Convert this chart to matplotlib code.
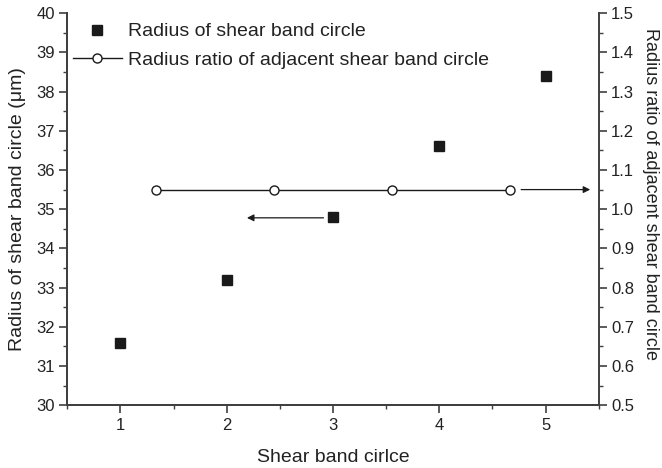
import matplotlib
matplotlib.use("Agg")
import matplotlib.pyplot as plt
from matplotlib.ticker import MultipleLocator
from matplotlib.lines import Line2D

plt.rcParams['font.family'] = ['Liberation Sans', 'DejaVu Sans']

circle_idx = [1, 2, 3, 4, 5]
radius = [31.6, 33.2, 34.8, 36.6, 38.4]
ratio_x = [1.333, 2.444, 3.556, 4.667]
ratio = [1.05, 1.05, 1.05, 1.05]

xlabel = "Shear band cirlce"
ylabel_left = "Radius of shear band circle (\u03bcm)"
ylabel_right = "Radius ratio of adjacent shear band circle"

spine_c = '#404040'

fig = plt.figure(figsize=(6.62, 4.68), dpi=100)
ax = fig.add_axes([0.1017, 0.134, 0.9044 - 0.1017, 0.972 - 0.134])
ax2 = ax.twinx()

ax.plot(circle_idx, radius, linestyle='none', marker='s', markersize=6.5,
        color='#1a1a1a', zorder=3)
ax2.plot(ratio_x, ratio, color='#1a1a1a', linewidth=1.0, marker='o',
         markersize=6.5, markerfacecolor='white', markeredgecolor='#1a1a1a',
         markeredgewidth=1.0)

ax.set_xlim(0.5, 5.5)
ax.set_ylim(30, 40)
ax2.set_ylim(0.5, 1.5)

ax.xaxis.set_major_locator(MultipleLocator(1))
ax.xaxis.set_minor_locator(MultipleLocator(0.5))
ax.yaxis.set_major_locator(MultipleLocator(1))
ax.yaxis.set_minor_locator(MultipleLocator(0.5))
ax2.yaxis.set_major_locator(MultipleLocator(0.1))
ax2.yaxis.set_minor_locator(MultipleLocator(0.05))
ax2.yaxis.set_major_formatter(matplotlib.ticker.FormatStrFormatter('%.1f'))

for a in (ax, ax2):
    a.spines['top'].set_visible(False)
    for s in a.spines.values():
        s.set_color(spine_c)
        s.set_linewidth(1.4)
    a.tick_params(which='major', direction='out', length=6, width=1.2,
                  color=spine_c, labelsize=12, labelcolor='#222222', pad=3)
    a.tick_params(which='minor', direction='out', length=3, width=1.0,
                  color=spine_c)
ax.spines['right'].set_visible(False)

ax.set_xlabel(xlabel, fontsize=14, color='#222222', labelpad=12)
ax.set_ylabel(ylabel_left, fontsize=14, color='#222222', labelpad=7)
ax2.set_ylabel(ylabel_right, fontsize=13, color='#222222', rotation=270,
               va='center', ha='center')
ax2.yaxis.set_label_coords(1.098, 0.54)

# arrows
ax.annotate('', xy=(2.19, 34.78), xytext=(2.91, 34.78),
            arrowprops=dict(arrowstyle='-|>', color='#1a1a1a', lw=0.9,
                            mutation_scale=10, shrinkA=0, shrinkB=0))
ax2.annotate('', xy=(5.42, 1.05), xytext=(4.77, 1.05),
             arrowprops=dict(arrowstyle='-|>', color='#1a1a1a', lw=0.9,
                             mutation_scale=10, shrinkA=0, shrinkB=0))

handles = [
    Line2D([], [], linestyle='none', marker='s', markersize=6.5, color='#1a1a1a'),
    Line2D([], [], color='#1a1a1a', linewidth=1.0, marker='o', markersize=6.5,
           markerfacecolor='white', markeredgecolor='#1a1a1a'),
]
labels = ["Radius of shear band circle", "Radius ratio of adjacent shear band circle"]
leg = ax2.legend(handles, labels, loc='upper left', bbox_to_anchor=(-0.004, 0.995),
                 frameon=False, fontsize=14, handlelength=2.5,
                 handletextpad=0.35, labelspacing=0.55, borderaxespad=0.0)
for t in leg.get_texts():
    t.set_color('#222222')

fig.savefig('out.png', dpi=100)
